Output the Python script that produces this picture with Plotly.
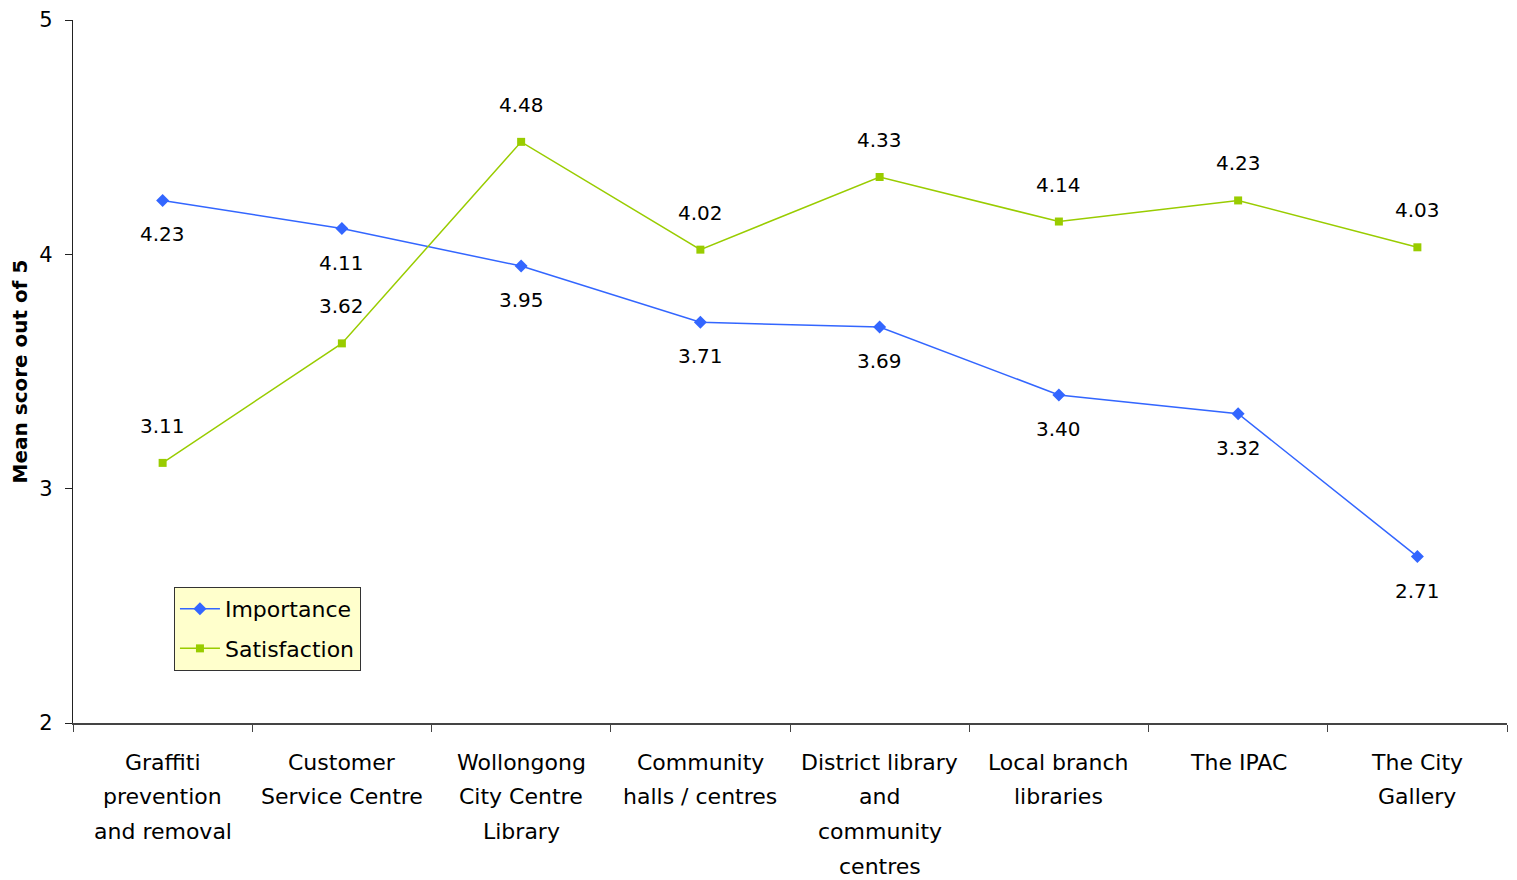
import plotly.graph_objects as go

categories = [
    "Graffiti<br>prevention<br>and removal",
    "Customer<br>Service Centre",
    "Wollongong<br>City Centre<br>Library",
    "Community<br>halls / centres",
    "District library<br>and<br>community<br>centres",
    "Local branch<br>libraries",
    "The IPAC",
    "The City<br>Gallery",
]
importance = [4.23, 4.11, 3.95, 3.71, 3.69, 3.40, 3.32, 2.71]
satisfaction = [3.11, 3.62, 4.48, 4.02, 4.33, 4.14, 4.23, 4.03]
y_ticks = [2, 3, 4, 5]

FONT = "DejaVu Sans"
BLUE = "#3366FF"
GREEN = "#99CC00"
LINE_GAP = 34.7      # spacing between lines of category labels (px)
FIRST_LINE = 39      # first label line centre below axis (px)

fig = go.Figure()
fig.add_trace(go.Scatter(
    x=categories, y=importance, mode="lines+markers", name="Importance",
    legendgroup="imp",
    line=dict(color=BLUE, width=1.5),
    marker=dict(symbol="diamond", size=10, color=BLUE),
))
fig.add_trace(go.Scatter(
    x=categories, y=satisfaction, mode="lines+markers", name="Satisfaction",
    legendgroup="sat",
    line=dict(color=GREEN, width=1.5),
    marker=dict(symbol="square", size=8, color=GREEN),
))

for c, v in zip(categories, importance):
    fig.add_annotation(x=c, y=v, text=f"{v:.2f}", showarrow=False, yshift=-34,
                       font=dict(family=FONT, size=20, color="black"))
for c, v in zip(categories, satisfaction):
    fig.add_annotation(x=c, y=v, text=f"{v:.2f}", showarrow=False, yshift=37,
                       font=dict(family=FONT, size=20, color="black"))

# category labels, one line at a time for Excel-like line spacing
for c in categories:
    for i, line in enumerate(c.split("<br>")):
        fig.add_annotation(x=c, xref="x", y=0, yref="paper", text=line,
                           showarrow=False, yanchor="middle",
                           yshift=-(FIRST_LINE + LINE_GAP * i),
                           font=dict(family=FONT, size=22, color="black"))

fig.update_layout(
    width=1517, height=880,
    margin=dict(l=65, r=18, t=12, b=165),
    plot_bgcolor="white", paper_bgcolor="white",
    font=dict(family=FONT, size=21, color="black"),
    showlegend=True,
    legend=dict(
        x=0.0704, y=0.1935, xanchor="left", yanchor="top",
        bgcolor="#FFFFCC", bordercolor="#333333", borderwidth=1,
        font=dict(family=FONT, size=22, color="black"),
        itemwidth=40, tracegroupgap=8, traceorder="grouped",
    ),
    xaxis=dict(
        type="category", range=[-0.5, 7.5], automargin=False,
        showline=True, linecolor="#444444", linewidth=1.5,
        ticks="outside", tickson="boundaries", ticklen=7, tickcolor="#444444",
        showticklabels=False,
        showgrid=False, zeroline=False,
    ),
    yaxis=dict(
        range=[2, 5], tickvals=y_ticks, automargin=False,
        showline=True, linecolor="#222222", linewidth=1.2,
        ticks="outside", ticklen=7, tickcolor="#222222",
        ticklabelstandoff=8,
        showgrid=False, zeroline=False,
        tickfont=dict(family=FONT, size=21, color="black"),
        title=dict(text="<b>Mean score out of 5</b>", font=dict(family=FONT, size=20, color="black"),
                   standoff=8),
    ),
)

fig.write_html("out.html")
